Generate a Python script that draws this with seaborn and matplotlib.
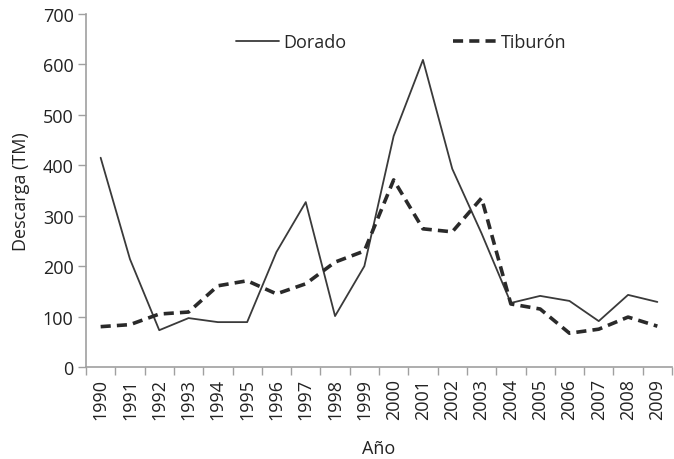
import matplotlib
matplotlib.use("Agg")
import matplotlib.pyplot as plt
import seaborn as sns
import pandas as pd
import numpy as np

years = [str(y) for y in range(1990, 2010)]
dorado = [415, 214, 73, 97, 89, 89, 228, 327, 101, 200,
          458, 609, 393, 265, 127, 141, 131, 91, 143, 129]
tiburon = [80, 84, 105, 109, 161, 171, 145, 165, 208, 230,
           371, 274, 268, 335, 125, 115, 67, 75, 99, 81]
series_names = ["Dorado", "Tiburón"]

sns.set_style("white")
plt.rcParams['font.family'] = ['Open Sans', 'DejaVu Sans']

df = pd.DataFrame({
    "idx": list(range(len(years))) * 2,
    "Descarga": dorado + tiburon,
    "Serie": [series_names[0]] * len(years) + [series_names[1]] * len(years),
})

fig = plt.figure(figsize=(6.74, 4.60), dpi=100)
ax = fig.add_axes([86/674, (460-368)/460, (672-86)/674, (368-15)/460])

col = "#3a3a3a"
dash = (2.8, 1.7)
sns.lineplot(data=df, x="idx", y="Descarga", hue="Serie", style="Serie",
             palette={series_names[0]: col, series_names[1]: "#2a2a2a"},
             dashes={series_names[0]: "", series_names[1]: dash},
             size="Serie", sizes={series_names[0]: 1.3, series_names[1]: 2.6},
             ax=ax, legend=False)

ax.set_xlim(-0.5, len(years) - 0.5)
ax.set_ylim(0, 700)
ax.set_yticks(range(0, 701, 100))
ax.tick_params(axis='y', labelsize=13, length=6, width=1, color="#a0a0a0",
               left=True, pad=3, labelcolor="#222222")
ax.set_xticks(np.arange(-0.5, len(years), 1.0))
ax.set_xticklabels([])
ax.set_xticks(np.arange(len(years)), minor=True)
ax.set_xticklabels(years, minor=True, rotation=90)
ax.tick_params(axis='x', which='major', length=6, width=1, color="#a0a0a0", bottom=True)
ax.tick_params(axis='x', which='minor', length=0, labelsize=13, pad=8, labelcolor="#222222")

for s in ["top", "right"]:
    ax.spines[s].set_visible(False)
for s in ["left", "bottom"]:
    ax.spines[s].set_color("#a0a0a0")
    ax.spines[s].set_linewidth(1.2)

ax.set_xlabel("Año", fontsize=13, color="#222222", labelpad=14)
ax.set_ylabel("Descarga (TM)", fontsize=13, color="#222222", labelpad=9)

from matplotlib.lines import Line2D
handles = [Line2D([], [], color=col, lw=1.3),
           Line2D([], [], color="#2a2a2a", lw=2.6, dashes=dash)]
ax.legend(handles, series_names, loc="center", bbox_to_anchor=(0.538, 0.92),
          ncol=2, frameon=False, fontsize=13, handlelength=2.4, handletextpad=0.25,
          columnspacing=5.9)

fig.savefig("out.png", dpi=100)
